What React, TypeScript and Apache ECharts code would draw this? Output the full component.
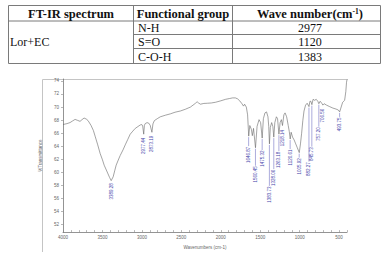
import React, { useEffect, useRef } from 'react';
import * as echarts from 'echarts';

// ---- Table data ----
const tableHeaders = ['FT-IR spectrum', 'Functional group', 'Wave number(cm', '-1', ')'];
const sampleName = 'Lor+EC';
const functionalGroups = ['N-H', 'S=O', 'C-O-H'];
const groupWaveNumbers = ['2977', '1120', '1383'];

// ---- Spectrum data ----
const wavenumbers = [
  4000, 3950, 3911, 3880, 3847, 3815, 3784, 3760, 3733, 3705, 3682, 3644, 3615, 3593, 3560, 3529, 3500, 3478,
  3440, 3410, 3389, 3364, 3345, 3326, 3300, 3275, 3240, 3211, 3180, 3148, 3115, 3084, 3050, 3020, 3000, 2990,
  2977, 2968, 2957, 2935, 2915, 2895, 2873, 2860, 2842, 2800, 2766, 2700, 2639, 2580, 2512, 2450, 2385, 2340,
  2321, 2300, 2280, 2257, 2215, 2168, 2120, 2066, 2000, 1939, 1890, 1850, 1815, 1787, 1760, 1736, 1712, 1698,
  1676, 1660, 1646, 1632, 1612, 1600, 1585, 1560, 1540, 1515, 1495, 1475, 1460, 1440, 1420, 1402, 1392, 1383,
  1372, 1355, 1340, 1328, 1315, 1295, 1280, 1263, 1248, 1232, 1218, 1200, 1185, 1165, 1145, 1132, 1120, 1108,
  1090, 1070, 1050, 1030, 1005, 990, 975, 960, 945, 925, 905, 882, 870, 858, 845, 830, 810, 790, 770, 757, 740,
  720, 706, 690, 660, 620, 580, 540, 510, 493, 478, 455, 430, 415, 406, 400,
];
const transmittance = [
  67.31, 67.45, 67.61, 67.85, 68.1, 67.95, 67.8, 68.05, 68.31, 68.15, 67.91, 67.16, 66.4, 65.53, 64.2, 62.86, 61.9, 61.07,
  60.03, 59.2, 58.7, 59.29, 60.2, 61.07, 61.85, 62.56, 63.4, 64.19, 65.0, 65.83, 66.3, 66.72, 67.0, 67.25, 67.3, 67.1,
  65.83, 67.2, 67.46, 67.6, 67.54, 67.2, 66.12, 67.4, 67.91, 68.25, 68.5, 68.75, 68.95, 69.2, 69.39, 69.65, 69.99, 70.4,
  70.58, 70.81, 70.6, 70.43, 70.55, 70.58, 70.62, 70.73, 70.95, 71.18, 71.3, 71.4, 71.4, 71.25, 70.95, 70.58, 70.14, 70.43,
  69.99, 68.8, 65.53, 67.16, 66.57, 65.6, 66.72, 63.75, 67.02, 68.06, 67.61, 65.23, 68.21, 69.1, 69.25, 68.5, 67.02, 64.34,
  66.87, 67.61, 67.02, 65.38, 67.61, 68.5, 68.21, 65.83, 67.61, 68.06, 67.16, 68.8, 69.1, 68.5, 67.16, 66.27, 65.08, 66.12,
  65.38, 64.94, 64.34, 63.75, 63.0, 64.34, 65.98, 67.91, 69.39, 70.29, 70.58, 70.06, 70.88, 70.88, 70.36, 71.18, 71.03, 71.18, 70.88, 70.51, 70.88,
  70.58, 70.29, 70.51, 70.29, 70.06, 69.84, 69.69, 69.54, 69.25, 69.84, 70.73, 71.03, 72.37, 73.8, 74.2,
];

// ---- Peak labels ----
const peakWavenumbers = [3389.28, 2977.44, 2873.19, 1646.87, 1560.45, 1475.32, 1383.73, 1328.06, 1263.18, 1218.14, 1120.61, 1005.92, 882.27, 845.73, 757.2, 706.56, 493.75];
const peakTransmittance = [58.7, 65.83, 66.12, 65.53, 63.75, 65.23, 64.34, 65.38, 65.83, 67.16, 65.08, 63.0, 70.06, 70.36, 70.51, 70.29, 69.25];

// ---- Axes ----
const xTickLabels = [4000, 3500, 3000, 2500, 2000, 1500, 1000, 500];
const yTickLabels = [52, 54, 56, 58, 60, 62, 64, 66, 68, 70, 72, 74];
const xAxisTitle = 'Wavenumbers (cm-1)';
const yAxisTitle = '%Transmittance';

// layout/style (pixels): leader length under each peak
const peakLeader = [2, 3, 3, 10, 18, 12, 42, 32, 17, 4, 10, 5, 55, 42, 23, 3, 5];

const SERIF = '"Liberation Serif", "Times New Roman", serif';
const SANS = '"Liberation Sans", Arial, sans-serif';

function buildTable(): any[] {
  const els: any[] = [];
  const left = 8.5, right = 380.5, top = 5.5, bottom = 63.5;
  const cols = [left, 133.5, 232.5, right];
  const rows = [top, 21, 34.5, 48.5, bottom];
  const stroke = { stroke: '#7a7a7a', lineWidth: 1 };
  els.push({ type: 'rect', shape: { x: left, y: top, width: right - left, height: bottom - top }, style: { fill: 'none', ...stroke } });
  els.push({ type: 'line', shape: { x1: left, y1: rows[1], x2: right, y2: rows[1] }, style: stroke });
  els.push({ type: 'line', shape: { x1: cols[1], y1: rows[2], x2: right, y2: rows[2] }, style: stroke });
  els.push({ type: 'line', shape: { x1: cols[1], y1: rows[3], x2: right, y2: rows[3] }, style: stroke });
  els.push({ type: 'line', shape: { x1: cols[1], y1: top, x2: cols[1], y2: bottom }, style: stroke });
  els.push({ type: 'line', shape: { x1: cols[2], y1: top, x2: cols[2], y2: bottom }, style: stroke });

  const hy = (rows[0] + rows[1]) / 2 + 0.5;
  const hdr = { fontFamily: SERIF, fontWeight: 'bold', fontSize: 12.5, fill: '#111', verticalAlign: 'middle' };
  els.push({ type: 'text', x: (cols[0] + cols[1]) / 2, y: hy, style: { ...hdr, text: tableHeaders[0], align: 'center' } });
  els.push({ type: 'text', x: (cols[1] + cols[2]) / 2, y: hy, style: { ...hdr, text: tableHeaders[1], align: 'center' } });
  els.push({
    type: 'text', x: 310, y: hy,
    style: {
      ...hdr, align: 'center',
      text: tableHeaders[2] + '{sup|' + tableHeaders[3] + '}' + tableHeaders[4],
      rich: { sup: { fontFamily: SERIF, fontWeight: 'bold', fontSize: 7.5, verticalAlign: 'top', padding: [0, 0, 5, 0] } },
    },
  });
  const body = { fontFamily: SERIF, fontSize: 12, fill: '#111', verticalAlign: 'middle' };
  els.push({ type: 'text', x: 10, y: (rows[1] + rows[4]) / 2, style: { ...body, text: sampleName, align: 'left' } });
  functionalGroups.forEach((g, i) => {
    const cy = (rows[i + 1] + rows[i + 2]) / 2 + 0.5;
    els.push({ type: 'text', x: 138, y: cy, style: { ...body, text: g, align: 'left' } });
    els.push({ type: 'text', x: 310, y: cy, style: { ...body, text: groupWaveNumbers[i], align: 'center' } });
  });
  const frame = { stroke: '#c4c4c4', lineWidth: 1 };
  els.push({ type: 'line', shape: { x1: 42.5, y1: 79.5, x2: 348, y2: 79.5 }, style: frame });
  els.push({ type: 'line', shape: { x1: 42.5, y1: 79.5, x2: 42.5, y2: 252 }, style: frame });
  return els;
}

export default function App() {
  const ref = useRef<HTMLDivElement>(null);
  useEffect(() => {
    if (!ref.current) return;
    const chart = echarts.init(ref.current, undefined, { renderer: 'svg' });
    const lineData = wavenumbers.map((w, i) => [w, transmittance[i]]);
    const peakData = peakWavenumbers.map((w, i) => [w, peakTransmittance[i], i]);
    const option: any = {
      animation: false,
      textStyle: { fontFamily: SANS },
      graphic: buildTable(),
      grid: { left: 63, right: 36, top: 79, bottom: 18, containLabel: false },
      xAxis: {
        type: 'value', inverse: true, min: 400, max: 4000, interval: 100,
        axisLine: { lineStyle: { color: '#666', width: 0.7 } },
        axisTick: { show: true, inside: true, length: 2, lineStyle: { color: '#888', width: 0.6 } },
        axisLabel: {
          fontSize: 4.5, color: '#666', margin: 3,
          formatter: (v: number) => (xTickLabels.indexOf(v) >= 0 ? String(v) : ''),
        },
        splitLine: { show: false },
        name: xAxisTitle, nameLocation: 'middle', nameGap: 10,
        nameTextStyle: { fontSize: 4.5, color: '#666' },
      },
      yAxis: {
        type: 'value', min: 50.8, max: 74.3,
        axisLine: { show: true, lineStyle: { color: '#666', width: 0.7 } },
        axisTick: { show: true, length: 2, customValues: yTickLabels, lineStyle: { color: '#888', width: 0.6 } },
        axisLabel: { fontSize: 4.5, color: '#666', margin: 4, customValues: yTickLabels },
        splitLine: { show: false },
        name: yAxisTitle, nameLocation: 'middle', nameGap: 17,
        nameTextStyle: { fontSize: 4.5, color: '#666' },
      },
      series: [
        {
          type: 'line', data: lineData, symbol: 'none', silent: true,
          lineStyle: { color: '#666', width: 0.6 },
        },
        {
          type: 'custom', data: peakData, silent: true, clip: false,
          renderItem: (params: any, api: any) => {
            const idx = api.value(2);
            const p = api.coord([api.value(0), api.value(1)]);
            const drop = peakLeader[idx];
            const label = peakWavenumbers[idx].toFixed(2);
            const children: any[] = [];
            if (drop > 4) {
              children.push({
                type: 'line',
                shape: { x1: p[0], y1: p[1] + 1, x2: p[0], y2: p[1] + drop },
                style: { stroke: '#7474c4', lineWidth: 0.6 },
              });
            }
            children.push({
              type: 'text', x: p[0], y: p[1] + drop + 0.5, rotation: Math.PI / 2,
              style: { text: label, fontSize: 4.5, fontFamily: SANS, fill: '#4444aa', align: 'right', verticalAlign: 'middle' },
            });
            return { type: 'group', children };
          },
        },
      ],
    };
    chart.setOption(option);
    return () => chart.dispose();
  }, []);
  return <div ref={ref} style={{ position: 'absolute', left: 0, top: 0, width: 383, height: 255, background: '#fff' }} />;
}
